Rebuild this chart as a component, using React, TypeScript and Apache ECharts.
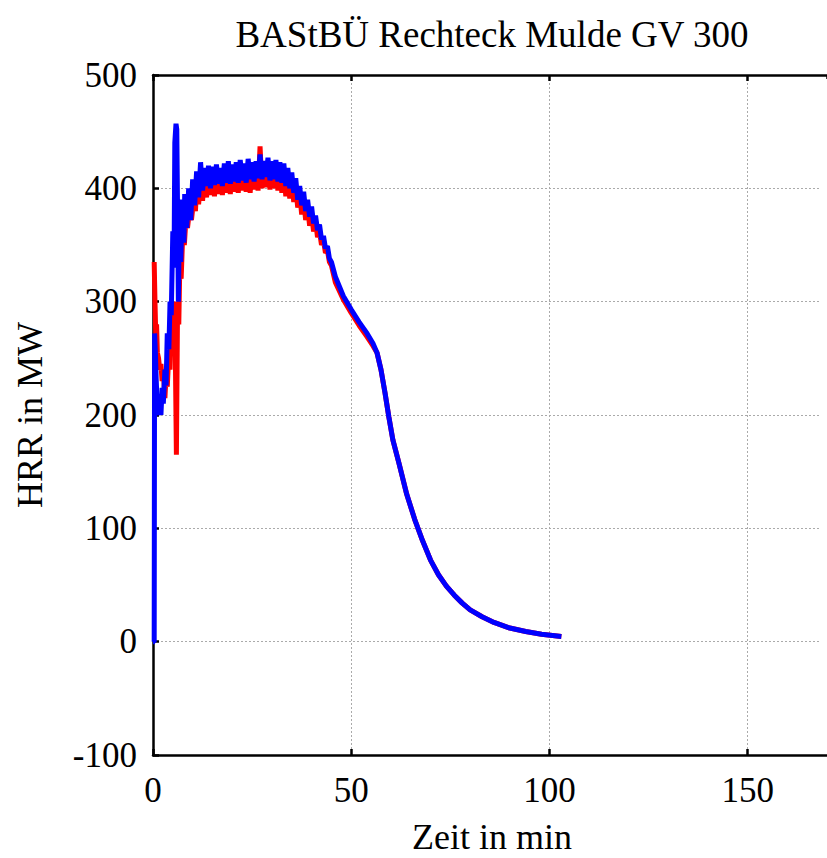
import React, { useEffect, useRef } from "react";
import * as echarts from "echarts";

const titleText = "BAStBÜ Rechteck Mulde GV 300";
const xName = "Zeit in min";
const yName = "HRR in MW";
const xTicks = [0, 50, 100, 150];
const yTicks = [-100, 0, 100, 200, 300, 400, 500];

// Blue series (time in min, HRR in MW)
const blueStart: [number, number][] = [
  [0, 0], [0.3, 0], [0.4, 272], [0.6, 255], [0.8, 232], [1.0, 215], [1.2, 205], [1.5, 200],
  [1.8, 214], [2.0, 200], [2.3, 224], [2.6, 210], [3.0, 240], [3.3, 226], [3.6, 272],
  [4.0, 258], [4.3, 300], [4.6, 288], [5.0, 362], [5.3, 330], [5.5, 440], [5.8, 457],
  [6.0, 452], [6.2, 380], [6.4, 300], [6.7, 385], [7.0, 335], [7.4, 390], [7.8, 352],
];
const blueNoise: [number, number][] = [
  [8.0, 395], [8.5, 365], [9.0, 400], [9.5, 372], [10.0, 408], [10.5, 385], [11.0, 415], [11.5, 392],
  [12.0, 423], [12.5, 398], [13.0, 418], [13.5, 402], [14.0, 420], [14.5, 400], [15.0, 419], [15.5, 403],
  [16.0, 421], [16.5, 404], [17.0, 418], [17.5, 402], [18.0, 422], [18.5, 405], [19.0, 424], [19.5, 404],
  [20.0, 421], [20.5, 406], [21.0, 423], [21.5, 405], [22.0, 425], [22.5, 407], [23.0, 422], [23.5, 405],
  [24.0, 426], [24.5, 408], [25.0, 423], [25.5, 406], [26.0, 424], [26.5, 409], [27.0, 430], [27.5, 408],
  [28.0, 424], [28.5, 410], [29.0, 427], [29.5, 407], [30.0, 424], [30.5, 408], [31.0, 425], [31.5, 406],
  [32.0, 423], [32.5, 405], [33.0, 422], [33.5, 402], [34.0, 418], [34.5, 400], [35.0, 414], [35.5, 396],
  [36.0, 409], [36.5, 390], [37.0, 402], [37.5, 385], [38.0, 397], [38.5, 380], [39.0, 390], [39.5, 375],
  [40.0, 384], [40.5, 369], [41.0, 376], [41.5, 363], [42.0, 368], [42.5, 355], [43.0, 358], [43.5, 347],
  [44.0, 349], [44.5, 338], [45.0, 335],
];
const blueDecay: [number, number][] = [
  [46, 322], [48, 305], [50, 293], [52, 282], [54, 272], [55.5, 263],
];

// Red series
const redStart: [number, number][] = [
  [0.3, 335], [0.5, 300], [0.7, 270], [0.9, 280], [1.1, 255], [1.4, 250], [1.7, 240], [2.0, 245],
  [2.3, 230], [2.6, 240], [3.0, 215], [3.3, 235], [3.6, 225], [4.0, 255], [4.3, 240], [4.6, 290],
  [5.0, 260], [5.3, 300], [5.6, 265], [5.9, 165], [6.2, 300], [6.5, 280], [6.8, 340], [7.1, 320],
  [7.5, 360], [7.9, 350], [8.3, 372], [8.7, 365], [9.2, 380], [9.7, 372], [10.2, 388], [10.7, 380],
];
const redNoise: [number, number][] = [
  [11.0, 400], [11.5, 386], [12.0, 405], [12.5, 389], [13.0, 410], [13.5, 392], [14.0, 413], [14.5, 394],
  [15.0, 415], [15.5, 393], [16.0, 414], [16.5, 395], [17.0, 416], [17.5, 394], [18.0, 418], [18.5, 396],
  [19.0, 417], [19.5, 395], [20.0, 420], [20.5, 397], [21.0, 418], [21.5, 396], [22.0, 419], [22.5, 398],
  [23.0, 417], [23.5, 397], [24.0, 420], [24.5, 396], [25.0, 418], [25.5, 399], [26.0, 421], [26.5, 398],
  [27.0, 437], [27.5, 400], [28.0, 420], [28.5, 401], [29.0, 419], [29.5, 399], [30.0, 421], [30.5, 400],
  [31.0, 418], [31.5, 398], [32.0, 417], [32.5, 396], [33.0, 414], [33.5, 393], [34.0, 410], [34.5, 391],
  [35.0, 406], [35.5, 388], [36.0, 401], [36.5, 383], [37.0, 396], [37.5, 377], [38.0, 390], [38.5, 372],
  [39.0, 384], [39.5, 367], [40.0, 378], [40.5, 362], [41.0, 371], [41.5, 357], [42.0, 362], [42.5, 350],
  [43.0, 354], [43.5, 343], [44.0, 345], [44.5, 335], [45.0, 332],
];
const redDecay: [number, number][] = [
  [46, 317], [48, 302], [50, 290], [52, 279], [54, 269], [55.5, 261],
];

// Shared tail (both curves coincide)
const tailTime = [56.5, 57.5, 58.5, 59.5, 60.5, 62, 64, 66, 68, 70, 72, 74, 76, 78, 80, 83, 86, 90, 94, 98, 103];
const tailHRR = [255, 240, 220, 198, 178, 158, 130, 108, 89, 72, 59, 49, 41, 34, 28, 22, 17, 12, 9, 6.5, 4.5];

const FONT = "'Liberation Serif', 'Times New Roman', serif";

export default function App() {
  const ref = useRef<HTMLDivElement>(null);
  useEffect(() => {
    if (!ref.current) return;
    const chart = echarts.init(ref.current, undefined, { renderer: "svg" });
    const tail: [number, number][] = tailTime.map((t, i) => [t, tailHRR[i]]);
    const blue = [...blueStart, ...blueNoise, ...blueDecay, ...tail];
    const red = [...redStart, ...redNoise, ...redDecay, ...tail];
    const axisLineStyle = { color: "#000", width: 2.5 };
    chart.setOption({
      animation: false,
      backgroundColor: "#ffffff",
      textStyle: { fontFamily: FONT },
      grid: {
        left: 153,
        top: 75,
        width: 680,
        height: 680,
        show: false,
      },
      graphic: [
        {
          type: "rect",
          z: 100,
          shape: { x: 821, y: 79, width: 8, height: 673 },
          style: { fill: "#ffffff" },
        },
        {
          type: "text",
          x: 492,
          y: 34,
          style: {
            text: titleText,
            fontFamily: FONT,
            fontSize: 37,
            fill: "#000",
            textAlign: "center",
            textVerticalAlign: "middle",
          },
        },
        {
          type: "text",
          x: 492,
          y: 837,
          style: {
            text: xName,
            fontFamily: FONT,
            fontSize: 36,
            fill: "#000",
            textAlign: "center",
            textVerticalAlign: "middle",
          },
        },
        {
          type: "text",
          x: 30,
          y: 415,
          rotation: Math.PI / 2,
          style: {
            text: yName,
            fontFamily: FONT,
            fontSize: 36,
            fill: "#000",
            textAlign: "center",
            textVerticalAlign: "middle",
          },
        },
      ],
      xAxis: [
        {
          type: "value",
          min: 0,
          max: 170,
          interval: 50,
          position: "bottom",
          axisLine: { show: true, onZero: false, lineStyle: axisLineStyle },
          axisTick: { show: true, inside: true, length: 6, lineStyle: axisLineStyle },
          axisLabel: {
            show: true,
            margin: 18,
            fontSize: 35,
            fontFamily: FONT,
            color: "#000",
            showMaxLabel: false,
            formatter: (v: number) => (xTicks.includes(v) ? String(v) : ""),
          },
          splitLine: { show: true, lineStyle: { color: "#aaaaaa", width: 1, type: [2, 2] } },
        },
        {
          type: "value",
          min: 0,
          max: 170,
          interval: 50,
          position: "top",
          axisLine: { show: true, onZero: false, lineStyle: axisLineStyle },
          axisTick: { show: true, inside: true, length: 6, lineStyle: axisLineStyle },
          axisLabel: { show: false },
          splitLine: { show: false },
        },
      ],
      yAxis: {
        type: "value",
        min: -100,
        max: 500,
        interval: 100,
        axisLine: { show: true, onZero: false, lineStyle: axisLineStyle },
        axisTick: { show: true, inside: true, length: 6, lineStyle: axisLineStyle },
        axisLabel: {
          margin: 16,
          fontSize: 35,
          fontFamily: FONT,
          color: "#000",
          formatter: (v: number) => (yTicks.includes(v) ? String(v) : ""),
        },
        splitLine: { show: true, lineStyle: { color: "#aaaaaa", width: 1, type: [2, 2] } },
      },
      series: [
        {
          type: "line",
          name: "red",
          data: red,
          xAxisIndex: 0,
          showSymbol: false,
          symbol: "none",
          lineStyle: { color: "#ff0000", width: 5 },
          z: 2,
        },
        {
          type: "line",
          name: "blue",
          data: blue,
          xAxisIndex: 0,
          showSymbol: false,
          symbol: "none",
          lineStyle: { color: "#0000ff", width: 5 },
          z: 3,
        },
      ],
    });
    return () => chart.dispose();
  }, []);
  return (
    <div
      ref={ref}
      style={{ position: "fixed", left: 0, top: 0, width: 827, height: 858, background: "#fff" }}
    />
  );
}
